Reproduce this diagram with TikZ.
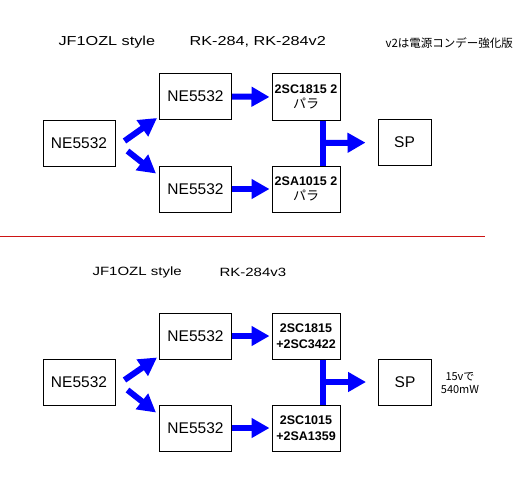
\documentclass[tikz,border=0pt]{standalone}
\usepackage{fontspec}
\setmainfont{Liberation Sans}
\newfontfamily\jpfont{Noto Sans CJK JP}
\newfontfamily\ttlfont[FakeStretch=1.25]{Liberation Sans}
\usetikzlibrary{arrows.meta}
\definecolor{sepred}{RGB}{205,20,20}

\begin{document}
\begin{tikzpicture}[x=1pt, y=-1pt,
	amp/.style={draw, line width=1pt, minimum width=72pt, minimum height=46pt, inner sep=0pt, font=\fontsize{15.5}{18}\selectfont},
	outst/.style={draw, line width=1pt, minimum width=68pt, minimum height=46pt, inner sep=0pt, align=center, font=\fontsize{12.5}{15.5}\selectfont\bfseries},
	spk/.style={draw, line width=1pt, minimum width=53pt, minimum height=46pt, inner sep=0pt, font=\fontsize{15.5}{18}\selectfont},
	fat/.style={draw=blue, line width=6pt, -{Triangle[length=18pt, width=19pt]}},
	bus/.style={draw=blue, line width=6pt}]

	\useasboundingbox (0,0) rectangle (517,495);

	% upper: RK-284, RK-284v2
	\node[anchor=west, font=\ttlfont\fontsize{13}{15}\selectfont] (ttlA) at (55,42) {JF1OZL style};
	\node[anchor=west, font=\ttlfont\fontsize{13}{15}\selectfont] (verA) at (186,42) {RK-284, RK-284v2};
	\node[anchor=west, font=\jpfont\fontsize{11.5}{14}\selectfont] (noteA) at (382,43) {v2は電源コンデー強化版};

	\node[amp] (inA) at (79,143) {NE5532};
	\node[amp] (upA) at (195.5,96.5) {NE5532};
	\node[amp] (dnA) at (195.5,189) {NE5532};
	\node[outst] (pA) at (306,97) {2SC1815 2\\{\jpfont\mdseries\fontsize{13}{15.5}\selectfont パラ}};
	\node[outst] (nA) at (306,189) {2SA1015 2\\{\jpfont\mdseries\fontsize{13}{15.5}\selectfont パラ}};
	\node[spk] (spA) at (404.5,142.5) {SP};

	\draw[fat] ([shift={(9,-2)}]inA.east) -- ([shift={(-2,-2)}]upA.south west);
	\draw[fat] ([shift={(12,8)}]inA.east) -- ([shift={(-3,8)}]dnA.north west);
	\draw[fat, shorten >=2pt] (upA.east) -- (pA.west);
	\draw[fat, shorten >=2pt] (dnA.east) -- (nA.west);
	\draw[bus] ([xshift=17]pA.south) -- ([xshift=17]nA.north) coordinate[midway] (jA);
	\draw[fat, shorten >=12pt] (jA) -- (spA.west);

	\draw[sepred, line width=1pt] (0,236) -- (485,236);

	% lower: RK-284v3
	\node[anchor=west, font=\ttlfont\fontsize{12}{14}\selectfont] (ttlB) at (89,272) {JF1OZL style};
	\node[anchor=west, font=\ttlfont\fontsize{12}{14}\selectfont] (verB) at (216,272) {RK-284v3};

	\node[amp] (inB) at (79,382) {NE5532};
	\node[amp] (upB) at (195.5,336) {NE5532};
	\node[amp] (dnB) at (195.5,428) {NE5532};
	\node[outst] (pB) at (306,336) {2SC1815\\+2SC3422};
	\node[outst] (nB) at (306,428) {2SC1015\\+2SA1359};
	\node[spk] (spB) at (405,382) {SP};
	\node[align=center, font=\jpfont\fontsize{11}{13.5}\selectfont] (noteB) at (460,383) {15vで\\540mW};

	\draw[fat] ([shift={(9,-2)}]inB.east) -- ([shift={(-2,-2)}]upB.south west);
	\draw[fat] ([shift={(12,8)}]inB.east) -- ([shift={(-3,8)}]dnB.north west);
	\draw[fat, shorten >=2pt] (upB.east) -- (pB.west);
	\draw[fat, shorten >=2pt] (dnB.east) -- (nB.west);
	\draw[bus] ([xshift=17]pB.south) -- ([xshift=17]nB.north) coordinate[midway] (jB);
	\draw[fat, shorten >=12pt] (jB) -- (spB.west);
\end{tikzpicture}
\end{document}
